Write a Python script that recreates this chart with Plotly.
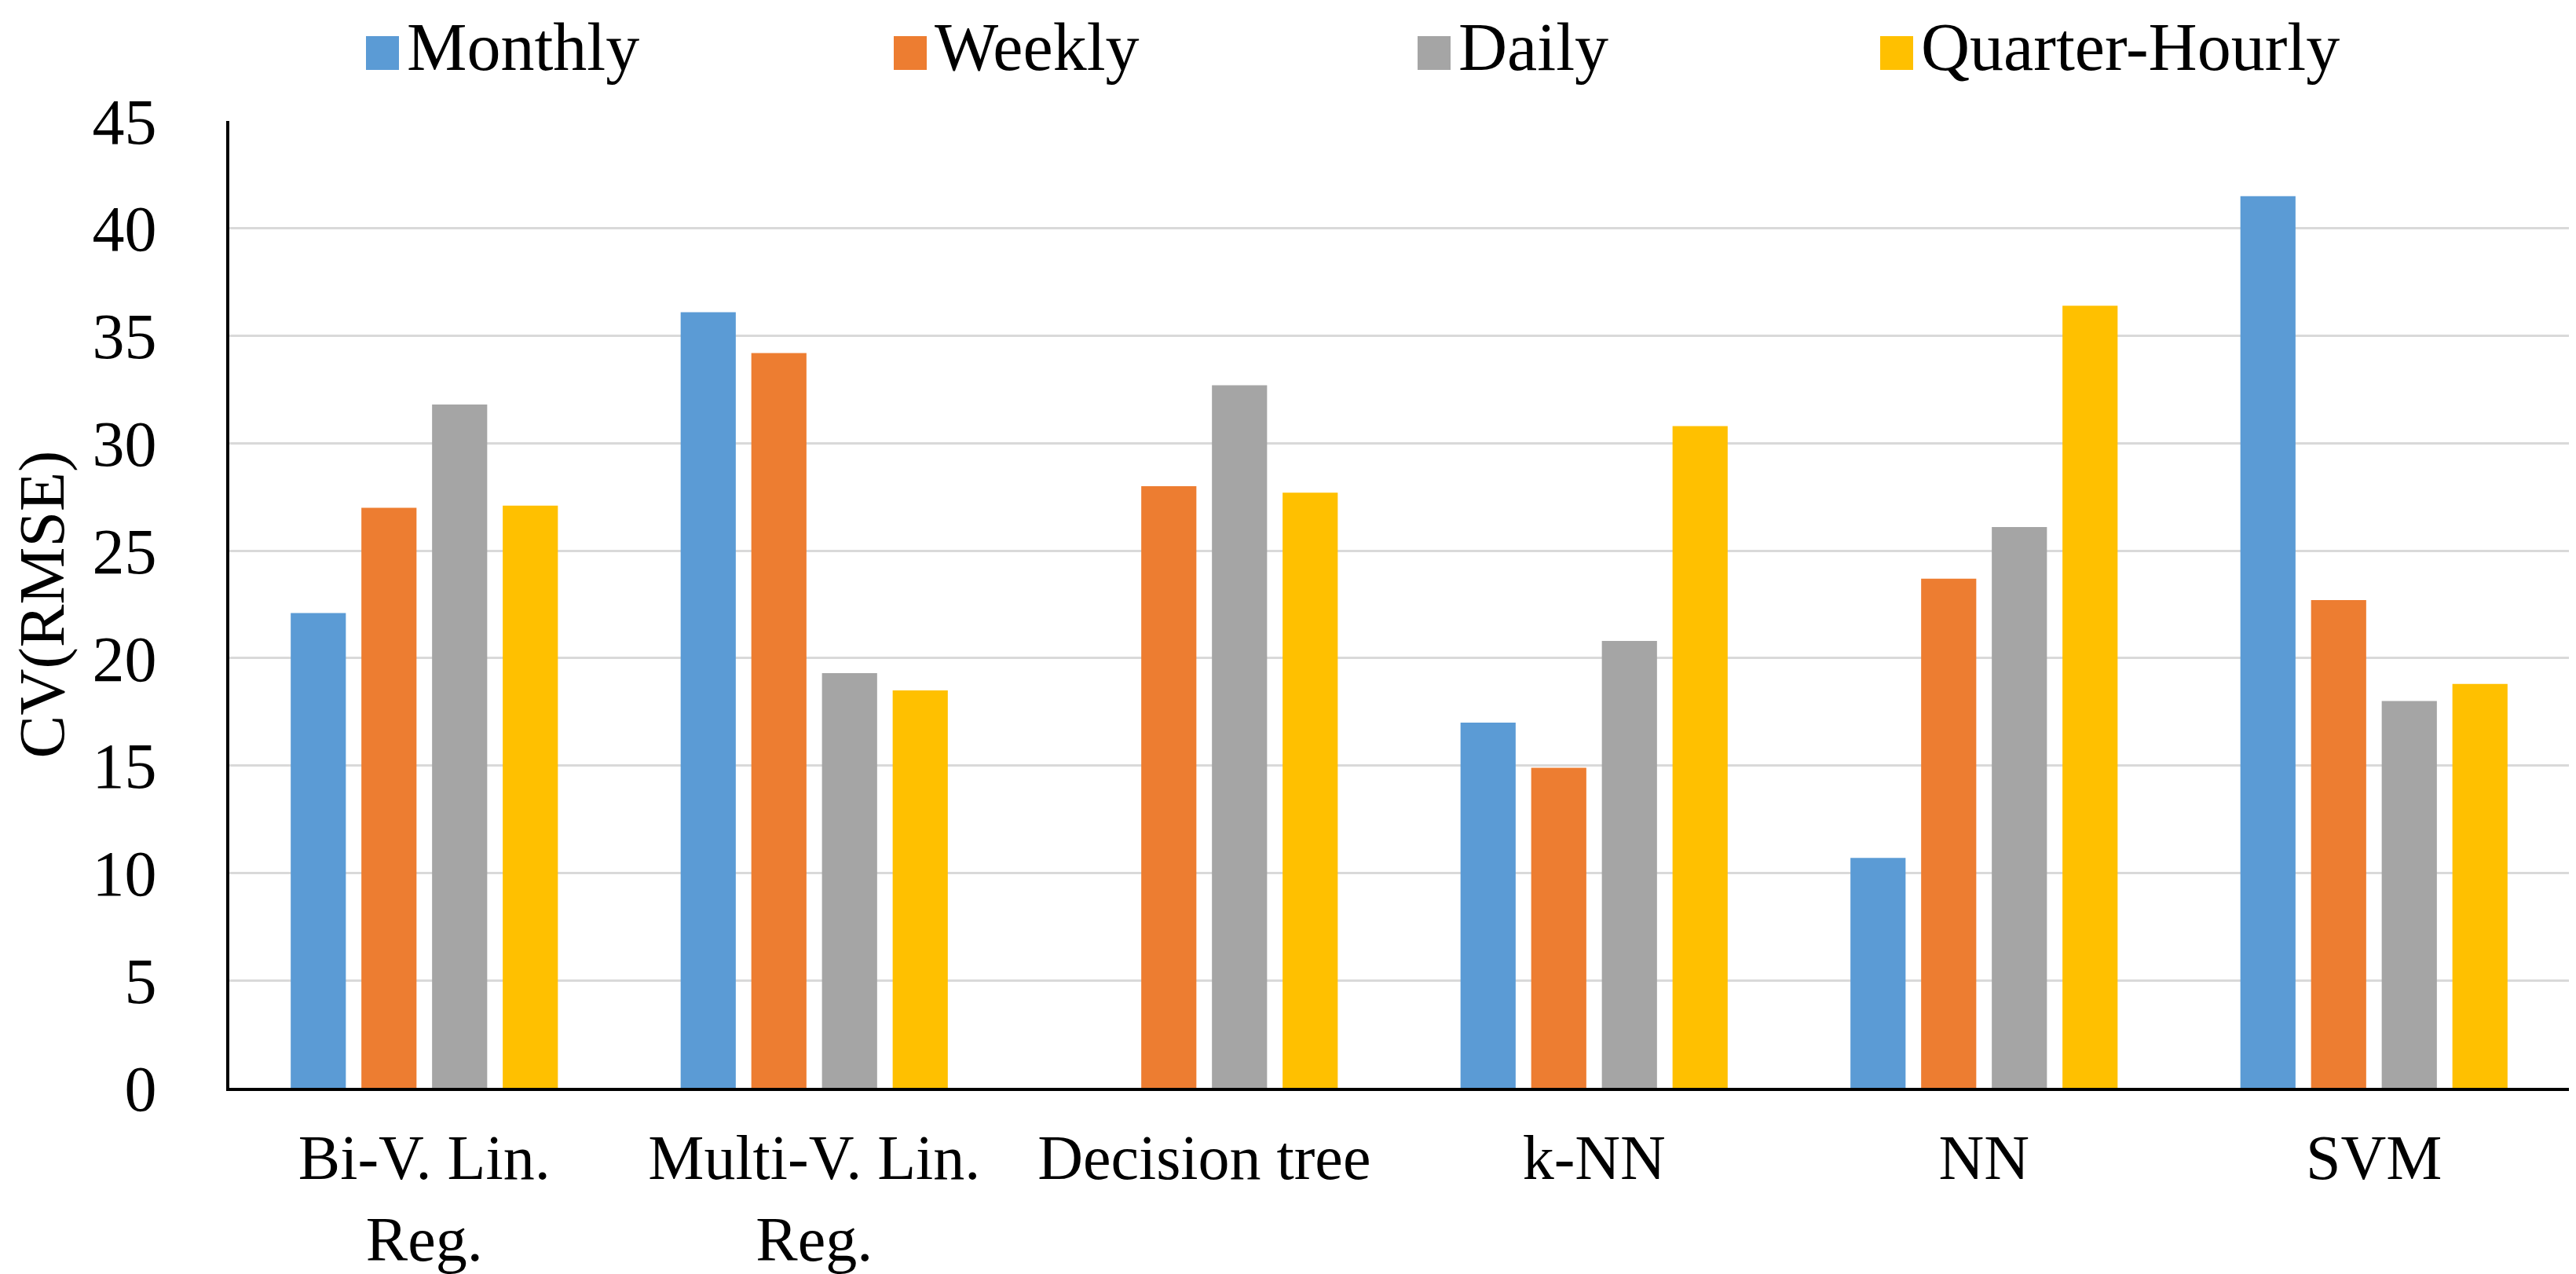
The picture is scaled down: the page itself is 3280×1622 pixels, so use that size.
import plotly.graph_objects as go

categories = ["Bi-V. Lin.<br>Reg.", "Multi-V. Lin.<br>Reg.", "Decision tree", "k-NN", "NN", "SVM"]
series_names = ["Monthly", "Weekly", "Daily", "Quarter-Hourly"]
monthly = [22.1, 36.1, None, 17.0, 10.7, 41.5]
weekly = [27.0, 34.2, 28.0, 14.9, 23.7, 22.7]
daily = [31.8, 19.3, 32.7, 20.8, 26.1, 18.0]
quarter_hourly = [27.1, 18.5, 27.7, 30.8, 36.4, 18.8]
y_ticks = [0, 5, 10, 15, 20, 25, 30, 35, 40, 45]

colors = ["#5B9BD5", "#ED7D31", "#A5A5A5", "#FFC000"]
values = [monthly, weekly, daily, quarter_hourly]

FONT = "Liberation Serif"
W, H = 3280, 1622
ML, MR, MT, MB = 284, 17, 146, 245
PW = W - ML - MR
PH = H - MT - MB

fig = go.Figure()
for name, vals, col in zip(series_names, values, colors):
    fig.add_trace(go.Bar(name=name, x=categories, y=vals, marker_color=col,
                         marker_line_width=0, showlegend=False))

def px2x(px):
    return (px - ML) / PW

def py2y(py):
    return (H - MB - py) / PH

# custom legend (large square swatches like the original)
legend_marker_x = [458, 1130, 1797, 2386]
sw = 42
sy0, sy1 = 38, 81
shapes = []
annotations = []
for name, col, mx in zip(series_names, colors, legend_marker_x):
    shapes.append(dict(type="rect", xref="paper", yref="paper",
                       x0=px2x(mx), x1=px2x(mx + sw), y0=py2y(sy1), y1=py2y(sy0),
                       fillcolor=col, line_width=0, layer="above"))
    annotations.append(dict(text=name, xref="paper", yref="paper",
                            x=px2x(mx + sw + 8), y=py2y(52), xanchor="left", yanchor="middle",
                            showarrow=False,
                            font=dict(family=FONT, size=86, color="black")))

fig.update_layout(
    width=W, height=H,
    margin=dict(l=ML, r=MR, t=MT, b=MB, autoexpand=False),
    paper_bgcolor="white", plot_bgcolor="white",
    barmode="group", bargap=0.275, bargroupgap=0.22,
    shapes=shapes, annotations=annotations,
    showlegend=False,
)
fig.update_yaxes(
    range=[0, 45], tickvals=y_ticks, showgrid=True, gridcolor="#D9D9D9", gridwidth=3,
    showline=True, linecolor="black", linewidth=4, zeroline=False,
    ticks="", ticklabelstandoff=72, automargin=False,
    tickfont=dict(family=FONT, size=82, color="black"),
    title=dict(text="CV(RMSE)", font=dict(family=FONT, size=82, color="black"), standoff=14),
)
fig.update_xaxes(
    showline=True, linecolor="black", linewidth=4, ticks="", automargin=False,
    ticklabelstandoff=16,
    tickfont=dict(family=FONT, size=80, color="black"),
)

fig.write_html("out.html")
